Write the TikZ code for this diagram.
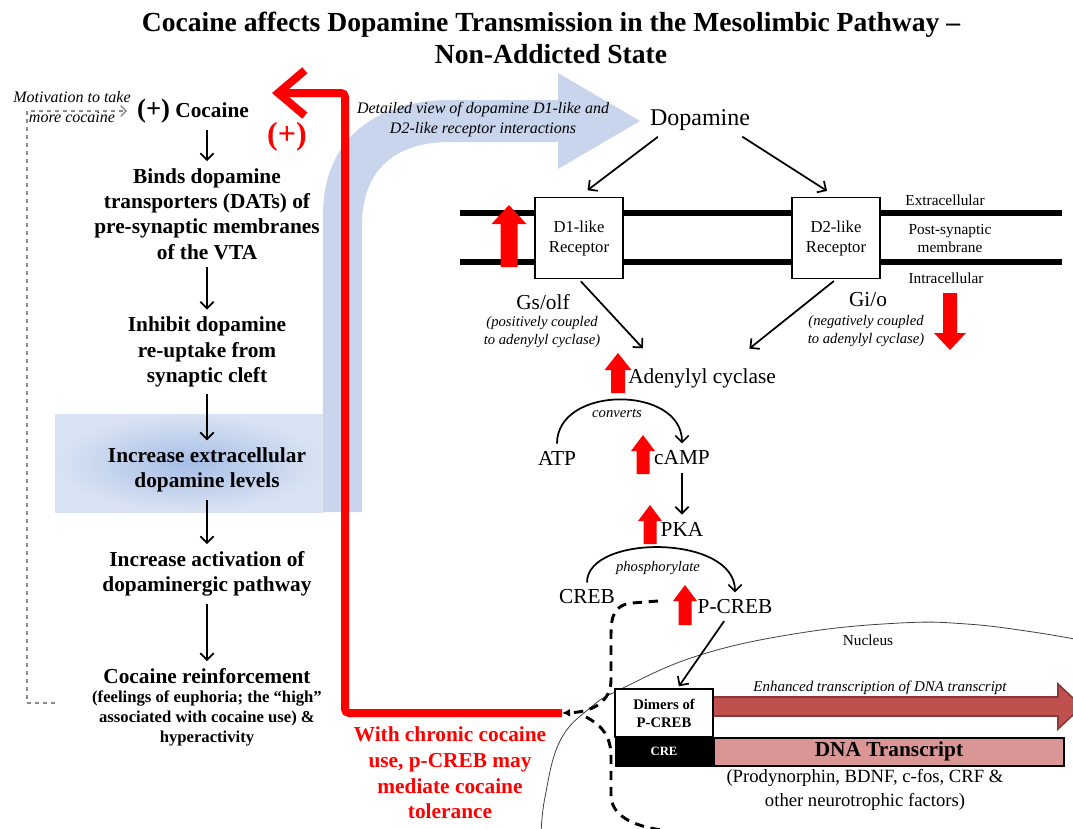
\documentclass[tikz,border=0pt]{standalone}
\usepackage{fontspec}
\setmainfont{Liberation Serif}
\usepackage{tikz}
\usetikzlibrary{positioning, calc, arrows.meta}
\definecolor{cocRed}{HTML}{FF0000}
\definecolor{bandBlue}{HTML}{C8D5ED}
\definecolor{boxBlueIn}{HTML}{A6BEE6}
\definecolor{boxBlueOut}{HTML}{DAE3F3}
\definecolor{dnaPink}{HTML}{D99694}
\definecolor{txFill}{HTML}{C0504D}
\definecolor{txEdge}{HTML}{8C3836}
\definecolor{loopGray}{HTML}{8C8C8C}

\tikzset{
  headline/.style={font=\bfseries\fontsize{20.7}{24}\selectfont, align=center},
  leftstep/.style={font=\bfseries\fontsize{16}{19}\selectfont, align=center},
  smallbold/.style={font=\bfseries\fontsize{12.5}{15}\selectfont, align=center},
  redtext/.style={font=\bfseries\fontsize{16}{19.3}\selectfont, align=center, text=cocRed},
  aside/.style={font=\itshape\fontsize{12}{15}\selectfont, align=center},
  note/.style={font=\itshape\fontsize{11}{13.5}\selectfont, align=center},
  molecule/.style={font=\fontsize{16}{18}\selectfont},
  sidetext/.style={font=\fontsize{11.5}{13.5}\selectfont, align=center},
  receptor/.style={draw, line width=1pt, fill=white, minimum width=66pt,
    minimum height=61pt, align=center, font=\fontsize{12.5}{15}\selectfont},
  flow/.style={-{Straight Barb[length=5pt,width=10pt]}, line width=1.3pt,
    shorten <=2pt, shorten >=2pt},
  membrane/.style={line width=4.5pt},
  loopback/.style={loopGray, dashed, line width=1pt,
    -{Straight Barb[length=4pt,width=8pt]}},
  redloop/.style={cocRed, line width=6pt, rounded corners=3pt,
    -{Straight Barb[length=20pt,width=34pt]}},
  creblink/.style={line width=2.2pt, dash pattern=on 7pt off 5pt},
}

% block arrows: x, tip y, base y, shaft half, head half, head length
\newcommand{\redup}[6]{%
  \fill[cocRed] (#1-#4,#3) -- (#1-#4,#2+#6) -- (#1-#5,#2+#6) -- (#1,#2)
    -- (#1+#5,#2+#6) -- (#1+#4,#2+#6) -- (#1+#4,#3) -- cycle;}
\newcommand{\reddown}[6]{%
  \fill[cocRed] (#1-#4,#3) -- (#1-#4,#2-#6) -- (#1-#5,#2-#6) -- (#1,#2)
    -- (#1+#5,#2-#6) -- (#1+#4,#2-#6) -- (#1+#4,#3) -- cycle;}

\begin{document}
\begin{tikzpicture}[x=0.75pt, y=-0.75pt]
\useasboundingbox (0,0) rectangle (1073,828);

% blue band and shaded box
\fill[bandBlue] (323,512) -- (323,215) .. controls (323,140) and (375,100) .. (450,100)
  -- (558,100) -- (558,73) -- (640,121) -- (558,169) -- (558,142) -- (450,142)
  .. controls (395,142) and (362,170) .. (362,225) -- (362,512) -- cycle;
\shade[inner color=boxBlueIn, outer color=boxBlueOut] (55,414) rectangle (323,512);

\node[headline] (title) at (551,38) {Cocaine affects Dopamine Transmission in the Mesolimbic Pathway --\\Non-Addicted State};

% left column
\node[leftstep] (cocaine) at (193,111) {{\fontsize{20}{20}\selectfont(+)} Cocaine};
\node[leftstep] (binds) at (207,214) {Binds dopamine\\transporters (DATs) of\\pre-synaptic membranes\\of the VTA};
\node[leftstep] (inhibit) at (207,352) {Inhibit dopamine\\re-uptake from\\synaptic cleft};
\node[leftstep] (increase) at (207,470) {Increase extracellular\\dopamine levels};
\node[leftstep] (activation) at (207,574) {Increase activation of\\dopaminergic pathway};
\node[leftstep] (reinforce) at (207,676) {Cocaine reinforcement};
\node[smallbold] (feelings) at (207,718) {(feelings of euphoria; the ``high''\\associated with cocaine use) \&\\hyperactivity};

\draw[flow] (binds.north |- cocaine.south) -- (binds.north);
\draw[flow] (binds) -- (inhibit);
\draw[flow] (inhibit) -- (increase);
\draw[flow] (increase) -- (activation);
\draw[flow] (activation) -- (reinforce);

\node[aside] (motivation) at (72,107) {Motivation to take\\more cocaine};
\coordinate (loopfoot) at (55,703);
\draw[loopback, shorten >=4pt] (loopfoot) -- (27,703) |- (cocaine.west);

% red feedback loop
\coordinate (redstart) at (562,713);
\coordinate (redtip) at (272,93);
\draw[redloop] (redstart) -| (345,93) -- (redtip);
\node[font=\bfseries\fontsize{24}{26}\selectfont, text=cocRed] (plusred) at (287,137) {(+)};
\node[redtext] (tolerance) at (450,773) {With chronic cocaine\\use, p-CREB may\\mediate cocaine\\tolerance};

\node[aside] (detail) at (483,120) {Detailed view of dopamine D1-like and\\D2-like receptor interactions};

% membrane and receptors
\draw[membrane] (460,213) -- (1062,213);
\draw[membrane] (460,262) -- (1062,262);
\node[receptor] (d1) at (579,238) {D1-like\\Receptor};
\node[receptor] (d2) at (836,238) {D2-like\\Receptor};
\node[font=\fontsize{18}{20}\selectfont] (dopamine) at (700,120) {Dopamine};
\draw[flow, shorten >=8pt] ([xshift=-30pt]dopamine.south) -- (d1.north);
\draw[flow, shorten >=8pt] ([xshift=30pt]dopamine.south) -- (d2.north);

\node[sidetext] (extra) at (945,200) {Extracellular};
\node[sidetext] (postsyn) at (950,238) {Post-synaptic\\membrane};
\node[sidetext] (intra) at (946,278) {Intracellular};

\redup{509}{205}{267}{8.5}{17.5}{19}
\reddown{950}{350}{293}{7}{16}{17}

\node[molecule] (gs) at (543,302) {Gs/olf};
\node[note] (gsnote) at (542,332) {(positively coupled\\to adenylyl cyclase)};
\node[molecule] (gi) at (868,300) {Gi/o};
\node[note] (ginote) at (866,331) {(negatively coupled\\to adenylyl cyclase)};

% signalling cascade
\node[molecule] (adenylyl) at (702,378) {Adenylyl cyclase};
\draw[flow] (d1.south) -- ([shift={(-43pt,10pt)}]adenylyl.north);
\draw[flow] (d2.south) -- ([shift={(34pt,10pt)}]adenylyl.north);
\redup{618}{353}{393}{7}{13.5}{17}

\node[molecule] (atp) at (557,458) {ATP};
\node[molecule] (camp) at (682,458) {cAMP};
\node[molecule] (pka) at (682,529) {PKA};
\draw[flow] (atp.north) .. controls (557,385) and (682,385) .. (camp.north);
\node[note] (converts) at (617,413) {converts};
\redup{643}{435}{474}{6.5}{12}{16}
\draw[flow] (camp) -- (pka);
\redup{650}{505}{544}{6.5}{12}{16}

\node[molecule] (creb) at (587,597) {CREB};
\node[molecule] (pcreb) at (735,607) {P-CREB};
\draw[flow] (creb.north) .. controls (587,534) and (735,534) .. (pcreb.north);
\node[note] (phos) at (658,568) {phosphorylate};
\redup{685}{585}{625}{6.5}{12}{16}

% nucleus
\draw[line width=0.6pt, black!75] plot[smooth, tension=0.7] coordinates {(541,835) (545,797) (560,741) (590,708) (623,688) (700,655) (800,633) (900,623) (967,624) (1033,632) (1085,641)};
\node[sidetext] (nucleus) at (868,640) {Nucleus};

\draw[creblink, -{Latex[length=6pt,width=6pt]}] (658,601) -- (632,603) .. controls (614,605) and (611,616) .. (611,635) -- (611,680) .. controls (611,700) and (595,712) .. (redstart);
\draw[creblink] (586,717) .. controls (603,726) and (611,737) .. (611,757) -- (611,795) .. controls (611,815) and (632,826) .. (662,830);

\filldraw[fill=txFill, draw=txEdge, line width=1.2pt] (713,697) -- (1058,697) -- (1058,684) -- (1082,706.5) -- (1058,729) -- (1058,716) -- (713,716) -- cycle;
\node[note, font=\itshape\fontsize{11.2}{12}\selectfont] (enhanced) at (880,688) {Enhanced transcription of DNA transcript};

\node[draw, fill=white, line width=0.8pt, minimum width=73.5pt, minimum height=36pt, align=center, font=\bfseries\fontsize{11}{13.5}\selectfont] (dimers) at (664,713) {Dimers of\\P-CREB};
\node[draw, fill=black, minimum width=73.5pt, minimum height=21pt, text=white, font=\bfseries\fontsize{9.5}{11}\selectfont, below=0pt of dimers] (cre) {CRE};
\node[draw, fill=dnaPink, line width=1.5pt, minimum width=262pt, minimum height=21pt, font=\bfseries\fontsize{16}{17}\selectfont, right=0pt of cre] (dna) {DNA Transcript};
\draw[flow] ([xshift=-7pt]pcreb.south) -- ([xshift=10pt]dimers.north);
\node[align=center, font=\fontsize{14}{18}\selectfont] (factors) at (865,790) {(Prodynorphin, BDNF, c-fos, CRF \&\\other neurotrophic factors)};
\end{tikzpicture}
\end{document}
